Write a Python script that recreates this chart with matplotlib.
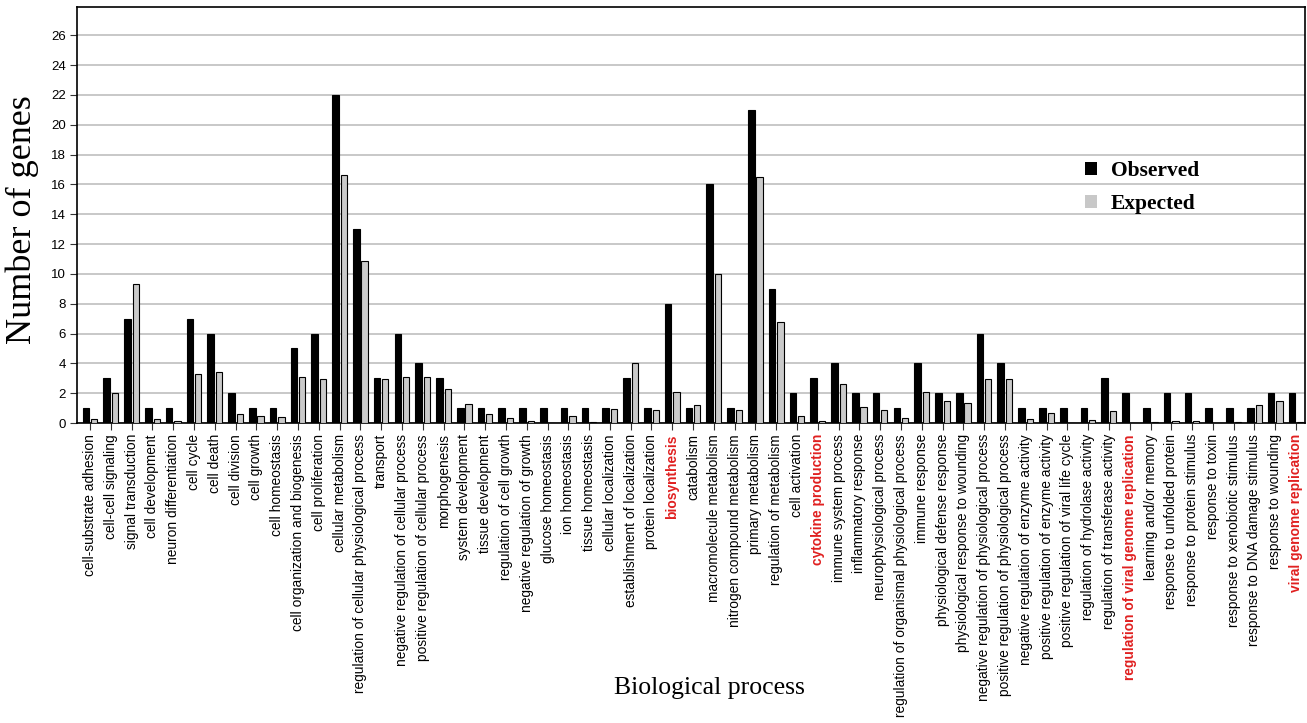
import matplotlib
matplotlib.use("Agg")
import matplotlib.pyplot as plt
import numpy as np
from matplotlib.patches import Patch


categories = [
    "cell-substrate adhesion", "cell-cell signaling", "signal transduction",
    "cell development", "neuron differentiation", "cell cycle", "cell death",
    "cell division", "cell growth", "cell homeostasis",
    "cell organization and biogenesis", "cell proliferation",
    "cellular metabolism", "regulation of cellular physiological process",
    "transport", "negative regulation of cellular process",
    "positive regulation of cellular process", "morphogenesis",
    "system development", "tissue development", "regulation of cell growth",
    "negative regulation of growth", "glucose homeostasis", "ion homeostasis",
    "tissue homeostasis", "cellular localization",
    "establishment of localization", "protein localization", "biosynthesis",
    "catabolism", "macromolecule metabolism", "nitrogen compound metabolism",
    "primary metabolism", "regulation of metabolism", "cell activation",
    "cytokine production", "immune system process", "inflammatory response",
    "neurophysiological process",
    "regulation of organismal physiological process", "immune response",
    "physiological defense response", "physiological response to wounding",
    "negative regulation of physiological process",
    "positive regulation of physiological process",
    "negative regulation of enzyme activity",
    "positive regulation of enzyme activity",
    "positive regulation of viral life cycle",
    "regulation of hydrolase activity", "regulation of transferase activity",
    "regulation of viral genome replication", "learning and/or memory",
    "response to unfolded protein", "response to protein stimulus",
    "response to toxin", "response to xenobiotic stimulus",
    "response to DNA damage stimulus", "response to wounding",
    "viral genome replication",
]

observed = [
    1, 3, 7, 1, 1, 7, 6, 2, 1, 1,
    5, 6, 22, 13, 3, 6, 4, 3, 1, 1,
    1, 1, 1, 1, 1, 1, 3, 1, 8, 1,
    16, 1, 21, 9, 2, 3, 4, 2, 2, 1,
    4, 2, 2, 6, 4, 1, 1, 1, 1, 3,
    2, 1, 2, 2, 1, 1, 1, 2, 2,
]

expected = [
    0.3, 2.0, 9.3, 0.3, 0.15, 3.3, 3.4, 0.6, 0.5, 0.4,
    3.1, 2.95, 16.6, 10.85, 2.95, 3.1, 3.1, 2.3, 1.25, 0.6,
    0.35, 0.15, 0.0, 0.45, 0.08, 0.95, 4.0, 0.85, 2.1, 1.2,
    10.0, 0.85, 16.5, 6.75, 0.5, 0.15, 2.6, 1.1, 0.9, 0.35,
    2.1, 1.45, 1.35, 2.95, 2.95, 0.3, 0.65, 0.0, 0.2, 0.8,
    0.0, 0.1, 0.15, 0.15, 0.0, 0.1, 1.2, 1.45, 0.1,
]

highlighted = ["biosynthesis", "cytokine production",
               "regulation of viral genome replication",
               "viral genome replication"]

yticks = list(range(0, 27, 2))

fig = plt.figure(figsize=(13.07, 7.23), dpi=100)
ax = fig.add_axes([77 / 1307, 1 - 423 / 723, 1228 / 1307, 416 / 723])

x = np.arange(len(categories))
ax.bar(x - 0.2, observed, width=0.32, color="black", edgecolor="black",
       linewidth=0.8, zorder=3)
ax.bar(x + 0.2, expected, width=0.3, color="#cacaca", edgecolor="black",
       linewidth=0.8, zorder=3)

ax.set_xlim(-0.63, len(categories) - 0.57)
ax.set_ylim(0, 27.9)
ax.set_yticks(yticks)
ax.set_yticklabels([str(t) for t in yticks], family="Liberation Sans",
                   fontsize=9.5)
ax.yaxis.grid(True, color="#c4c4c4", linewidth=1.3, zorder=0)
ax.set_axisbelow(True)

ax.set_xticks(x)
ax.set_xticklabels(categories, rotation=90, family="Liberation Sans",
                   fontsize=9.9)
for lab in ax.get_xticklabels():
    if lab.get_text() in highlighted:
        lab.set_color("#e02020")
        lab.set_fontweight("bold")

ax.tick_params(axis="both", length=5, width=0.8, color="#333333")
ax.tick_params(axis="x", pad=3)
ax.tick_params(axis="y", pad=3)
for sp in ax.spines.values():
    sp.set_linewidth(1.2)

handles = [Patch(facecolor="black", edgecolor="none"),
           Patch(facecolor="#c8c8c8", edgecolor="none")]
ax.legend(handles, ["Observed", "Expected"], loc="upper left",
          bbox_to_anchor=((1085 - 77) / 1228, (423 - 161) / 416),
          frameon=False, borderpad=0, borderaxespad=0,
          handlelength=0.55, handleheight=0.55, handletextpad=0.65,
          labelspacing=0.6,
          prop={"family": "Liberation Serif", "weight": "bold", "size": 15.5})

fig.text(22 / 1307, 1 - 220 / 723, "Number of genes", rotation=90,
         ha="center", va="center", family="Liberation Serif", fontsize=26)
fig.text(709 / 1307, 1 - 688 / 723, "Biological process",
         ha="center", va="center", family="Liberation Serif", fontsize=18.5)

fig.savefig("out.png", dpi=100)
